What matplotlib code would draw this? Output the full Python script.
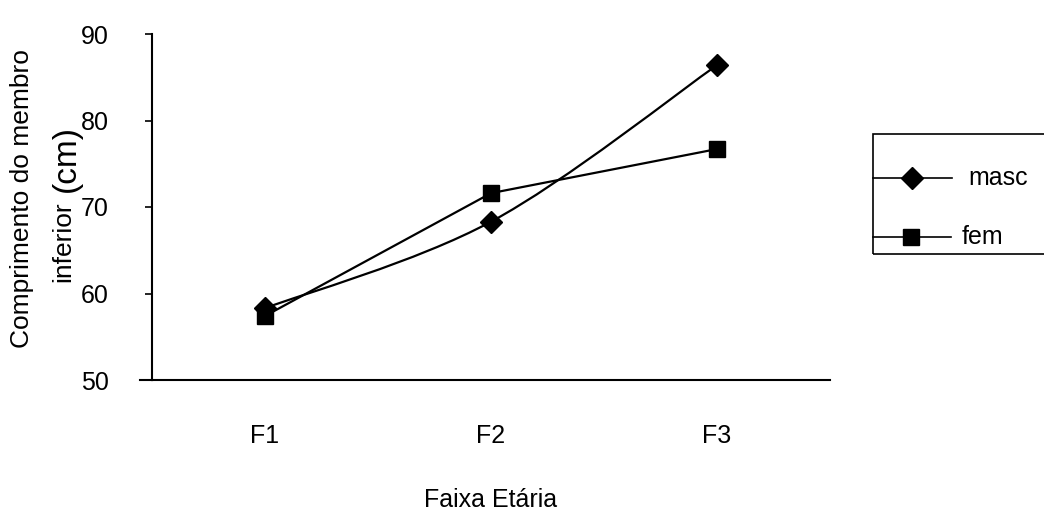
import matplotlib.pyplot as plt
from matplotlib.path import Path
from matplotlib.patches import PathPatch, Rectangle
from matplotlib.lines import Line2D

plt.rcParams["font.family"] = ["Liberation Sans", "DejaVu Sans"]

# data
categories = ["F1", "F2", "F3"]
masc = [58.3, 68.3, 86.4]
fem = [57.4, 71.6, 76.7]
y_ticks = [50, 60, 70, 80, 90]

W, H = 1044, 514
fig = plt.figure(figsize=(W / 100, H / 100), dpi=100)
ax = fig.add_axes([152 / W, 1 - 380 / H, (830 - 152) / W, (380 - 34) / H])

x = list(range(len(categories)))


# Excel-style smoothed line (bezier through the points)
def smooth_path(xs, ys):
    pts = list(zip(xs, ys))
    verts = [pts[0]]
    codes = [Path.MOVETO]
    n = len(pts)
    for i in range(n - 1):
        p0 = pts[i - 1] if i > 0 else pts[i]
        p1 = pts[i]
        p2 = pts[i + 1]
        p3 = pts[i + 2] if i + 2 < n else pts[i + 1]
        c1 = (p1[0] + (p2[0] - p0[0]) / 6, p1[1] + (p2[1] - p0[1]) / 6)
        c2 = (p2[0] - (p3[0] - p1[0]) / 6, p2[1] - (p3[1] - p1[1]) / 6)
        verts += [c1, c2, p2]
        codes += [Path.CURVE4] * 3
    return Path(verts, codes)


ax.add_patch(PathPatch(smooth_path(x, masc), facecolor="none", edgecolor="black", lw=1.6))
ax.plot(x, masc, linestyle="none", marker="D", ms=11, color="black")
ax.plot(x, fem, color="black", lw=1.6, marker="s", ms=12)

ax.set_xlim(-0.5, 2.5)
ax.set_ylim(50, 90)
ax.set_yticks(y_ticks)
ax.set_xticks(x)
ax.set_xticklabels(categories)
ax.tick_params(axis="x", length=0, pad=32, labelsize=18)
ax.tick_params(axis="y", length=5, width=1.2, pad=26, labelsize=18)
ax.spines["top"].set_visible(False)
ax.spines["right"].set_visible(False)
ax.spines["left"].set_linewidth(1.5)
ax.spines["bottom"].set_linewidth(1.5)
# x axis pokes a little left of the y axis
ax.plot([-12 / 678, 0], [0, 0], transform=ax.transAxes, color="black", lw=1.5, clip_on=False)

fig.text(491 / W, 1 - 500 / H, "Faixa Etária", ha="center", va="center", fontsize=18)

# two-line y label, "(cm)" a bit bigger
fig.text(22 / W, 1 - 199 / H, "Comprimento do membro", rotation=90, ha="center", va="center", fontsize=19)
fig.text(63 / W, 1 - 242 / H, "inferior", rotation=90, ha="center", va="center", fontsize=19)
fig.text(66 / W, 1 - 159 / H, "(cm)", rotation=90, ha="center", va="center", fontsize=24)

# legend box drawn by hand, running off the right edge
fig.patches.append(Rectangle((873 / W, 1 - 254 / H), 200 / W, 120 / H, transform=fig.transFigure,
                             facecolor="none", edgecolor="black", lw=1.2))
fig.lines.append(Line2D([873 / W, 952 / W], [1 - 178 / H] * 2, transform=fig.transFigure, color="black", lw=1.2))
fig.lines.append(Line2D([912 / W], [1 - 178 / H], transform=fig.transFigure, color="black", marker="D", ms=11))
fig.lines.append(Line2D([873 / W, 951 / W], [1 - 237 / H] * 2, transform=fig.transFigure, color="black", lw=1.2))
fig.lines.append(Line2D([911 / W], [1 - 237 / H], transform=fig.transFigure, color="black", marker="s", ms=12))
fig.text(968 / W, 1 - 178 / H, "masc", ha="left", va="center", fontsize=18)
fig.text(962 / W, 1 - 237 / H, "fem", ha="left", va="center", fontsize=18)

fig.savefig("out.png", dpi=100)
